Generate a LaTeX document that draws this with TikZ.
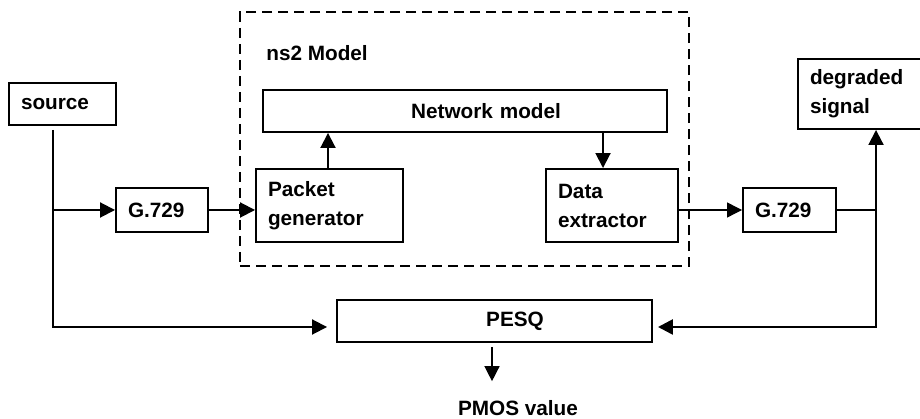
\documentclass[tikz,border=0pt]{standalone}
\usepackage{fontspec}
\setmainfont{Liberation Sans}
\usetikzlibrary{arrows.meta}

\begin{document}
\begin{tikzpicture}
\tikzstyle{block}=[draw, line width=1.1pt, inner xsep=0.24cm, align=left, font=\fontsize{11.8}{16.5}\selectfont\bfseries]
\tikzstyle{arr}=[line width=1.1pt, -{Triangle[length=0.3cm, width=0.3cm]}]
\useasboundingbox (0,0) rectangle (18.4,8.38);

\node[draw, dashed, line width=0.8pt, dash pattern=on 0.2cm off 0.12cm, minimum width=8.98cm, minimum height=5.08cm] (nsbox) at (9.29,5.60) {};
\node[anchor=west, inner sep=0pt, font=\fontsize{11.8}{16.5}\selectfont\bfseries] (nslabel) at (5.32,7.32) {ns2 Model};

\node[block, text width=1.66cm, minimum height=0.84cm] (src) at (1.25,6.30) {source};
\node[block, text width=1.36cm, minimum height=0.88cm] (g1) at (3.24,4.18) {G.729};
\node[block, text width=2.46cm, minimum height=1.46cm] (pkt) at (6.59,4.27) {Packet\\generator};
\node[block, text width=7.60cm, align=center, minimum height=0.84cm] (net) at (9.30,6.16) {\hspace*{0.84cm}Network model};
\node[block, text width=2.16cm, minimum height=1.46cm] (data) at (12.24,4.27) {Data\\extractor};
\node[block, text width=1.38cm, minimum height=0.88cm] (g2) at (15.79,4.18) {G.729};
\node[block, text width=2.00cm, minimum height=1.40cm] (deg) at (17.20,6.50) {degraded\\signal};
\node[block, text width=5.82cm, align=center, minimum height=0.84cm] (pesq) at (9.89,1.96) {\hspace*{0.82cm}PESQ};
\node[font=\fontsize{11.8}{16.5}\selectfont\bfseries] (pmos) at (10.36,0.22) {PMOS value};

\coordinate (srcdrop) at (1.06,5.78);
\coordinate (rx) at (17.52,0);

\draw[arr, shorten >=0.18cm] (srcdrop) |- ([yshift=-0.12cm]pesq.west);
\draw[arr] (srcdrop |- g1.west) -- (g1.west);
\draw[arr] (g1.east) -- (g1.east -| pkt.west);
\draw[arr] (pkt.north -| 6.56,0) -- (net.south -| 6.56,0);
\draw[arr] ([xshift=-0.18cm]data.north |- net.south) -- ([xshift=-0.18cm]data.north);
\draw[arr, line width=0.7pt] (g2.west -| data.east) -- (g2.west);
\draw[arr] (g2.east) -| (deg.south -| rx);
\draw[arr, line width=1.5pt, shorten >=0.1cm] (g2.east -| rx) |- ([yshift=-0.12cm]pesq.east);
\draw[arr, line width=0.8pt, shorten <=0.08cm, shorten >=0.26cm] (pesq.south -| 9.84,0) -- (pmos.north -| 9.84,0);
\end{tikzpicture}
\end{document}
